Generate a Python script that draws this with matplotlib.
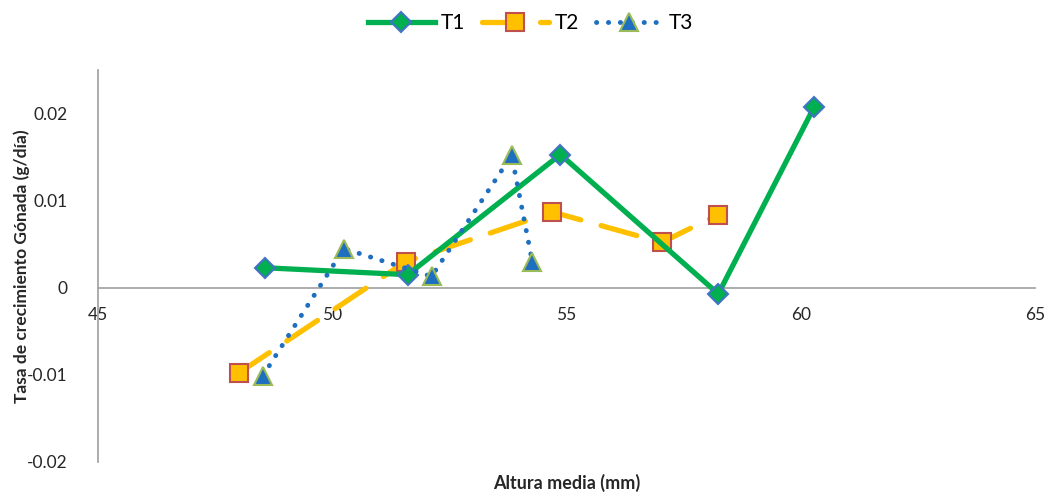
import matplotlib
matplotlib.use("Agg")
import matplotlib.pyplot as plt

plt.rcParams['font.family'] = ['Lato', 'DejaVu Sans']

# Growth rate of gonad vs. mean height for three treatments
t1_x = [48.56, 51.61, 54.87, 58.24, 60.29]
t1_y = [0.0023, 0.0015, 0.0153, -0.0007, 0.0208]

t2_x = [48.00, 51.57, 54.70, 57.03, 58.24]
t2_y = [-0.0098, 0.0030, 0.0087, 0.0052, 0.0084]

t3_x = [48.52, 50.25, 52.12, 53.83, 54.27]
t3_y = [-0.0101, 0.0045, 0.0013, 0.0152, 0.0030]

series_names = ['T1', 'T2', 'T3']
x_ticks = [45, 50, 55, 60, 65]
y_ticks = [-0.02, -0.01, 0, 0.01, 0.02]
y_tick_labels = ['-0.02', '-0.01', '0', '0.01', '0.02']

fig = plt.figure(figsize=(10.51, 4.93), dpi=100)
ax = fig.add_axes([0.0932, 0.0629, 0.8916, 0.7951])

green = '#00B050'
yellow = '#FFC000'
blue = '#1F6FC0'

l1, = ax.plot(t1_x, t1_y, color=green, lw=3.8, marker='D', ms=10,
              mfc=green, mec='#4472C4', mew=1.5, zorder=4)
l2, = ax.plot(t2_x, t2_y, color=yellow, lw=3.8, marker='s', ms=13,
              mfc=yellow, mec='#C0504D', mew=1.5, zorder=3,
              linestyle=(0, (7, 4)), dash_capstyle='round')
l3, = ax.plot(t3_x, t3_y, color=blue, lw=3.5, marker='^', ms=13,
              mfc=blue, mec='#9BBB59', mew=1.5, zorder=5,
              linestyle=(0, (0.05, 2.4)), dash_capstyle='round')

ax.set_xlim(45, 65)
ax.set_ylim(-0.02, 0.025)

# Axes cross at x=45 / y=0
for side in ['top', 'right']:
    ax.spines[side].set_visible(False)
ax.spines['bottom'].set_position(('data', 0))
ax.spines['left'].set_position(('data', 45))
for side in ['bottom', 'left']:
    ax.spines[side].set_color('#A6A6A6')
    ax.spines[side].set_linewidth(1.3)

ax.set_xticks(x_ticks)
ax.set_yticks(y_ticks)
ax.set_yticklabels(y_tick_labels)
ax.tick_params(axis='both', length=0, labelsize=12.5, labelcolor='#262626')
ax.tick_params(axis='x', pad=14)
ax.tick_params(axis='y', pad=22)

ax.set_xlabel('Altura media (mm)', fontsize=13, fontweight='bold', color='#262626')
ax.xaxis.set_label_coords(0.5, -0.03)
ax.set_ylabel('Tasa de crecimiento Gónada (g/día)', fontsize=12.5,
              fontweight='bold', color='#262626')
ax.yaxis.set_label_coords(-0.072, 0.5)

fig.legend([l1, l2, l3], series_names, loc='upper center',
           bbox_to_anchor=(0.505, 1.012), ncol=3, frameon=False,
           fontsize=15, handlelength=3.2, columnspacing=0.8, handletextpad=0.3,
           numpoints=1)

fig.savefig('out.png', dpi=100)
